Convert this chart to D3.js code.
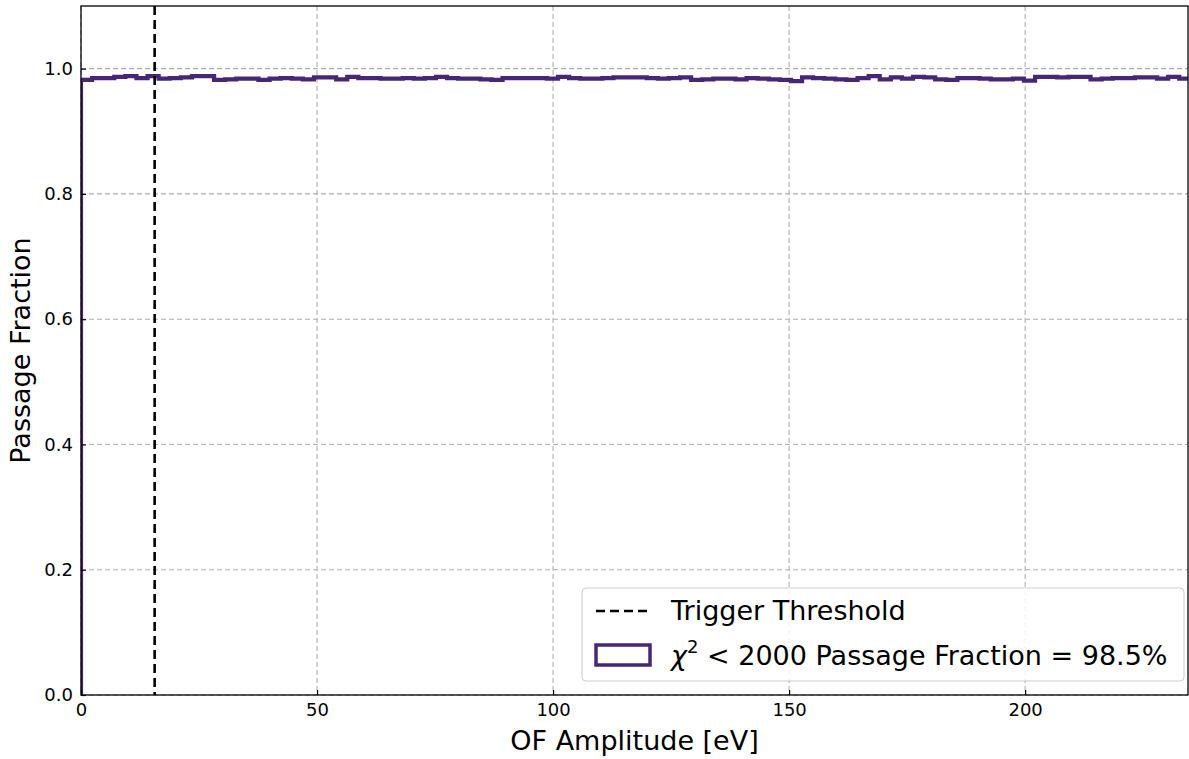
<!DOCTYPE html>
<html><head><meta charset="utf-8">
<script src="https://cdn.jsdelivr.net/npm/d3@7"></script>
<style>body{margin:0;background:#fff}svg{display:block}text{font-family:"DejaVu Sans",sans-serif}</style>
</head><body><svg id="c" width="1189" height="759"></svg>
<script>
const binWidth = 2.35;
const passFrac = [
0.982,0.985,0.985,0.987,0.988,0.985,0.988,0.984,0.985,0.986,
0.988,0.988,0.982,0.983,0.984,0.984,0.982,0.984,0.985,0.984,
0.983,0.986,0.986,0.983,0.987,0.985,0.985,0.984,0.984,0.985,
0.984,0.985,0.987,0.985,0.984,0.984,0.983,0.982,0.985,0.985,
0.985,0.985,0.984,0.987,0.985,0.984,0.984,0.985,0.986,0.986,
0.986,0.985,0.984,0.985,0.986,0.982,0.983,0.984,0.984,0.983,
0.985,0.984,0.983,0.982,0.980,0.986,0.985,0.984,0.983,0.982,
0.985,0.988,0.983,0.986,0.984,0.987,0.986,0.983,0.982,0.985,
0.985,0.984,0.983,0.983,0.984,0.981,0.987,0.987,0.986,0.987,
0.987,0.983,0.984,0.985,0.985,0.986,0.986,0.984,0.987,0.984];
const passErr = [0.0035].concat(d3.range(99).map(()=>0.0015));
const threshold = 15.6;
const xTicks = [0,50,100,150,200];
const yTicks = [0,0.2,0.4,0.6,0.8,1.0];
const xLabel = "OF Amplitude [eV]";
const yLabel = "Passage Fraction";

const svg = d3.select("#c");
const L=81, R=1188, T=6, B=695;
const x = d3.scaleLinear().domain([0,234.5]).range([L,R]);
const y = d3.scaleLinear().domain([0,1.1]).range([B,T]);
const col = "#482677";

svg.append("clipPath").attr("id","cp").append("rect")
  .attr("x",L).attr("y",T).attr("width",R-L).attr("height",B-T);

// grid
const g = svg.append("g");
g.selectAll(".gx").data(xTicks).join("line")
  .attr("x1",d=>x(d)).attr("x2",d=>x(d)).attr("y1",T).attr("y2",B)
  .attr("stroke","#b0b0b0").attr("stroke-width",1.1).attr("stroke-dasharray","5,3");
g.selectAll(".gy").data(yTicks).join("line")
  .attr("y1",d=>y(d)).attr("y2",d=>y(d)).attr("x1",L).attr("x2",R)
  .attr("stroke","#b0b0b0").attr("stroke-width",1.1).attr("stroke-dasharray","5,3");

const pts = [];
passFrac.forEach((v,i)=>{pts.push([i*binWidth,v]);pts.push([(i+1)*binWidth,v]);});
const pe = [];
passFrac.forEach((v,i)=>{pe.push([i*binWidth,v,passErr[i]]);pe.push([(i+1)*binWidth,v,passErr[i]]);});

const plot = svg.append("g").attr("clip-path","url(#cp)");
plot.append("path").datum(pe)
  .attr("d",d3.area().x(d=>x(d[0])).y0(d=>y(d[1]-d[2])).y1(d=>y(d[1]+d[2])))
  .attr("fill",col).attr("opacity",0.35);
const line = d3.line().x(d=>x(d[0])).y(d=>y(d[1]));
plot.append("path").datum([[0,0]].concat(pts))
  .attr("d",line).attr("fill","none").attr("stroke",col).attr("stroke-width",4.2);

plot.append("line").attr("x1",x(threshold)).attr("x2",x(threshold)).attr("y1",T).attr("y2",B)
  .attr("stroke","#000").attr("stroke-width",2.6).attr("stroke-dasharray","9,5");

// axes
const ax = svg.append("g").attr("transform",`translate(0,${B})`)
  .call(d3.axisBottom(x).tickValues(xTicks).tickFormat(d3.format("d")).tickSizeInner(-5).tickSizeOuter(0).tickPadding(8));
const ay = svg.append("g").attr("transform",`translate(${L},0)`)
  .call(d3.axisLeft(y).tickValues(yTicks).tickFormat(d3.format(".1f")).tickSizeInner(-5).tickSizeOuter(0).tickPadding(8));
[ax,ay].forEach(a=>{a.select(".domain").remove();
  a.selectAll("text").attr("font-size",18).attr("fill","#000").style("font-family","DejaVu Sans");
  a.selectAll(".tick line").attr("stroke","#000").attr("stroke-width",1.2);});
svg.append("rect").attr("x",L).attr("y",T).attr("width",R-L).attr("height",B-T)
  .attr("fill","none").attr("stroke","#000").attr("stroke-width",1.3);

svg.append("text").attr("x",(L+R)/2).attr("y",750).attr("text-anchor","middle")
  .attr("font-size",27).text(xLabel);
svg.append("text").attr("transform",`translate(30,${(T+B)/2}) rotate(-90)`).attr("text-anchor","middle")
  .attr("font-size",27).text(yLabel);

// legend
const lg = svg.append("g");
lg.append("rect").attr("x",582).attr("y",588).attr("width",602).attr("height",93).attr("rx",4)
  .attr("fill","#fff").attr("fill-opacity",0.8).attr("stroke","#cccccc").attr("stroke-width",1);
lg.append("line").attr("x1",596).attr("x2",651).attr("y1",611).attr("y2",611)
  .attr("stroke","#000").attr("stroke-width",2.6).attr("stroke-dasharray","9,5");
lg.append("text").attr("x",671).attr("y",620).attr("font-size",27).text("Trigger Threshold");
lg.append("rect").attr("x",596).attr("y",645).attr("width",54).attr("height",20)
  .attr("fill","none").attr("stroke",col).attr("stroke-width",3.5);
const t2 = lg.append("text").attr("x",671).attr("y",665).attr("font-size",27);
t2.append("tspan").attr("font-style","italic").text("χ");
t2.append("tspan").attr("font-size",18).attr("dy",-12).text("2");
t2.append("tspan").attr("dy",12).text(" < 2000 Passage Fraction = 98.5%");
</script></body></html>
